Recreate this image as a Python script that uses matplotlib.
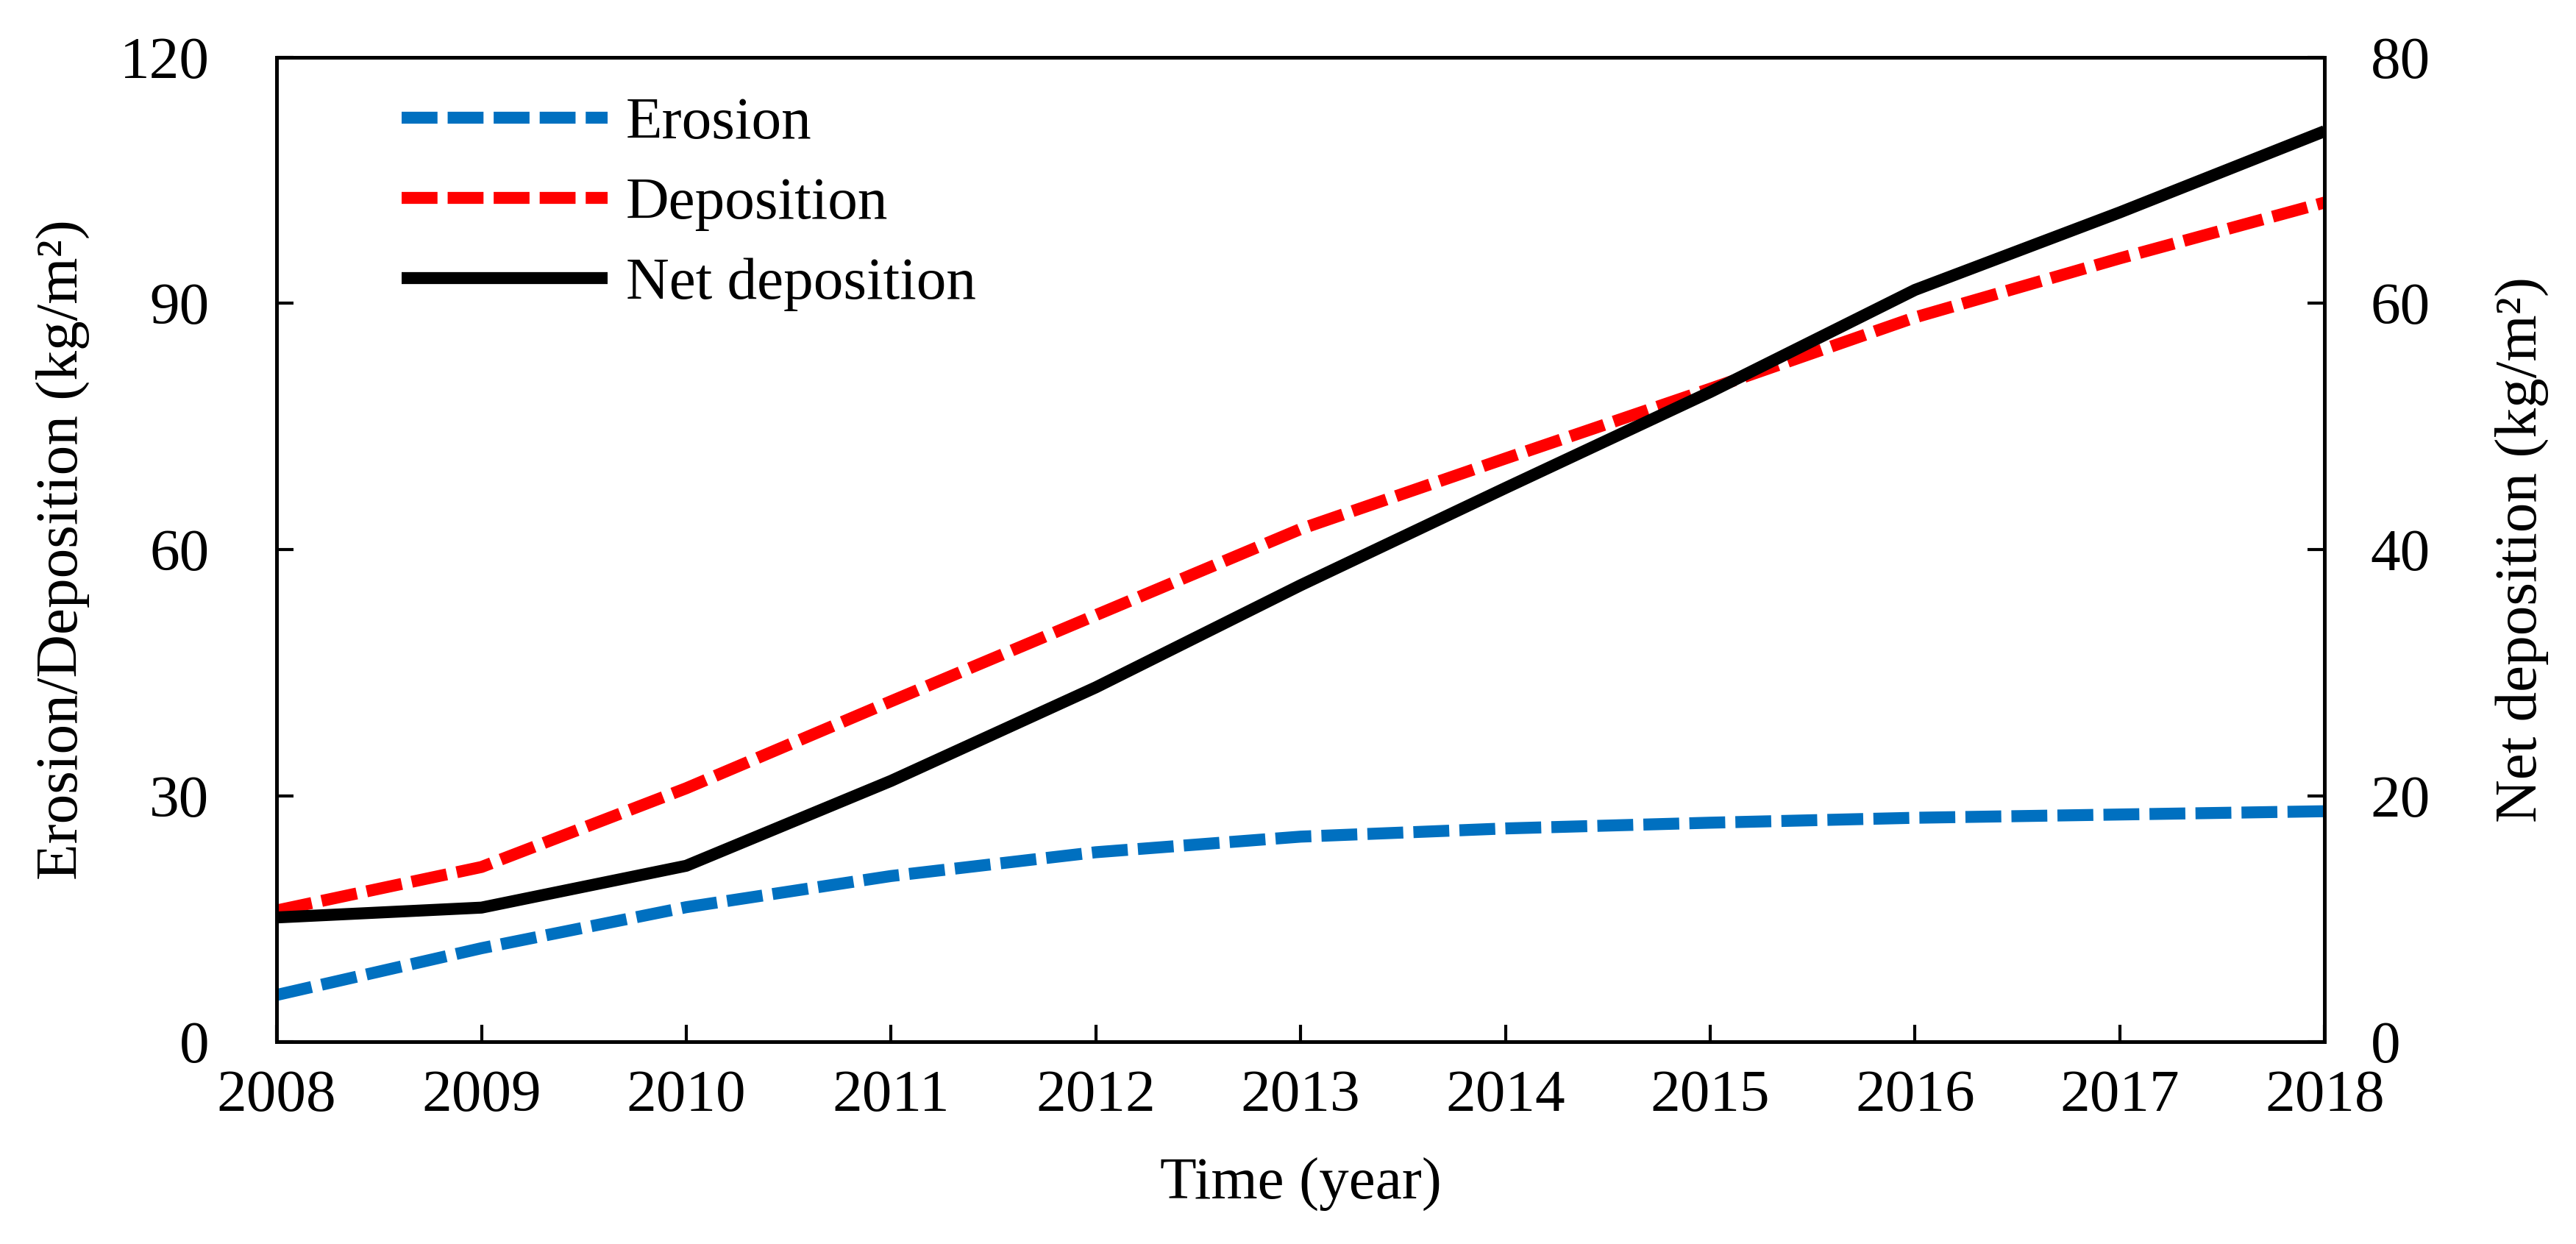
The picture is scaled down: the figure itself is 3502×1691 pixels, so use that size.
import numpy as np
import matplotlib
matplotlib.use('Agg')
import matplotlib.pyplot as plt

# values
years = [2008, 2009, 2010, 2011, 2012, 2013, 2014, 2015, 2016, 2017, 2018]
erosion = [5.7, 11.4, 16.4, 20.2, 23.1, 25.0, 26.0, 26.7, 27.3, 27.7, 28.1]
deposition = [16.0, 21.3, 30.9, 41.5, 52.0, 62.5, 71.1, 79.6, 88.3, 95.5, 102.3]
net_deposition = [10.1, 10.9, 14.3, 21.2, 28.8, 37.1, 45.0, 52.8, 61.1, 67.4, 74.0]

left_ticks = [0, 30, 60, 90, 120]
right_ticks = [0, 20, 40, 60, 80]

plt.rcParams['font.family'] = ['Liberation Serif', 'DejaVu Serif']
plt.rcParams['font.size'] = 19.5

BLUE = '#0070C0'
RED = '#FF0000'
LW = 3.9
DASH = (3.0, 0.85)


def style_axis(ax, which):
    ''' Inward major ticks only, on the side given by which.
    '''
    ax.tick_params(axis='y', direction='in', length=5.5, width=1.0,
                   left=(which == 'left'), right=(which == 'right'),
                   labelleft=(which == 'left'), labelright=(which == 'right'),
                   pad=22 if which == 'left' else 15)
    for sp in ax.spines.values():
        sp.set_linewidth(1.15)


def main():
    fig = plt.figure(figsize=(3502 / 300, 1691 / 300), dpi=300)
    ax = fig.add_axes([0.1074, 0.1626, 0.7950, 0.7913])
    ax2 = ax.twinx()

    l1, = ax.plot(years, erosion, color=BLUE, lw=LW, dashes=DASH,
                  dash_capstyle='butt', label='Erosion')
    l2, = ax.plot(years, deposition, color=RED, lw=LW, dashes=DASH,
                  dash_capstyle='butt', label='Deposition')
    l3, = ax2.plot(years, net_deposition, color='black', lw=LW,
                   solid_capstyle='butt', label='Net deposition')

    ax.set_xlim(years[0], years[-1])
    ax.set_xticks(years)
    ax.set_ylim(left_ticks[0], left_ticks[-1])
    ax.set_yticks(left_ticks)
    ax2.set_ylim(right_ticks[0], right_ticks[-1])
    ax2.set_yticks(right_ticks)

    ax.tick_params(axis='x', direction='in', length=5.5, width=1.0,
                   top=False, pad=9)
    style_axis(ax, 'left')
    style_axis(ax2, 'right')

    ax.set_xlabel('Time (year)')
    ax.set_ylabel('Erosion/Deposition (kg/m²)')
    ax2.set_ylabel('Net deposition (kg/m²)')
    ax.xaxis.label.set_verticalalignment('center')
    ax.yaxis.label.set_verticalalignment('center')
    ax2.yaxis.label.set_verticalalignment('center')
    ax.xaxis.set_label_coords(0.5, -0.145)
    ax.yaxis.set_label_coords(-0.1045, 0.5)
    ax2.yaxis.set_label_coords(1.0965, 0.5)

    ax2.legend(handles=[l1, l2, l3], loc='upper left',
               bbox_to_anchor=(0.061, 0.96), frameon=False,
               borderpad=0, borderaxespad=0, handlelength=3.45,
               handletextpad=0.3, labelspacing=0.43)

    fig.savefig('out.png', dpi=300)


main()
